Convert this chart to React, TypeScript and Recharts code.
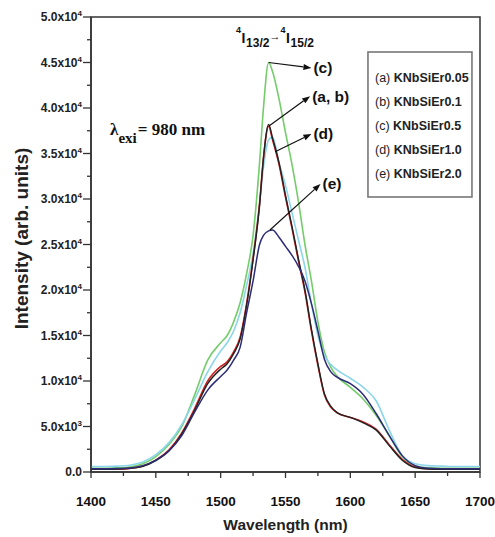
import React from 'react';
import { LineChart, Line, XAxis, YAxis, ReferenceArea, ReferenceLine, ReferenceDot } from 'recharts';

const wavelengths = [1400, 1410, 1420, 1430, 1440, 1450, 1460, 1470, 1480, 1490, 1500, 1505, 1510, 1515, 1520, 1525, 1530, 1533, 1537, 1540, 1545, 1550, 1555, 1560, 1565, 1570, 1575, 1580, 1585, 1590, 1600, 1610, 1620, 1630, 1640, 1650, 1660, 1670, 1680, 1690, 1700];

const seriesA = [300, 300, 320, 400, 650, 1300, 2400, 4300, 7000, 10000, 11600, 12100, 13200, 14800, 18500, 23500, 29500, 34500, 38000, 36500, 33800, 30200, 26800, 23200, 19800, 15500, 11700, 8500, 7100, 6500, 6000, 5500, 4700, 3000, 1400, 550, 350, 300, 300, 300, 300];
const seriesB = [300, 300, 320, 400, 620, 1250, 2300, 4200, 6800, 9700, 11300, 11900, 13000, 14600, 18300, 23300, 29300, 34500, 38200, 36700, 34000, 30400, 27000, 23400, 20000, 15700, 11900, 8600, 7200, 6500, 6000, 5400, 4600, 2900, 1300, 500, 330, 300, 300, 300, 300];
const seriesC = [400, 400, 450, 550, 900, 1700, 3000, 5000, 8500, 12300, 14200, 15000, 16500, 18600, 21800, 26000, 34000, 40000, 45000, 44000, 41000, 37300, 33800, 29700, 25000, 21000, 16500, 13200, 11500, 10500, 9300, 8000, 6200, 4000, 1700, 650, 450, 400, 400, 400, 400];
const seriesD = [600, 600, 650, 750, 1100, 1900, 3200, 5200, 8000, 11000, 13300, 14200, 15500, 17500, 20500, 24000, 29500, 33500, 36500, 36800, 34000, 31500, 28500, 25500, 22500, 18500, 15000, 12800, 11800, 11200, 10300, 9300, 7800, 4600, 1800, 900, 700, 650, 600, 600, 600];
const seriesE = [350, 350, 380, 450, 700, 1300, 2300, 4000, 6600, 9000, 10500, 11200, 12300, 13700, 17500, 21000, 25000, 26000, 26500, 26600, 25800, 24800, 23800, 22600, 21000, 18500, 15500, 12400, 11000, 10400, 9700, 8500, 6400, 4000, 1800, 700, 400, 350, 350, 350, 350];

const xTicks = [1400, 1425, 1450, 1475, 1500, 1525, 1550, 1575, 1600, 1625, 1650, 1675, 1700];
const yTicks = [0, 2500, 5000, 7500, 10000, 12500, 15000, 17500, 20000, 22500, 25000, 27500, 30000, 32500, 35000, 37500, 40000, 42500, 45000, 47500, 50000];
const yMantissas = ['0.0', '5.0', '1.0', '1.5', '2.0', '2.5', '3.0', '3.5', '4.0', '4.5', '5.0'];
const yExponents = ['', '3', '4', '4', '4', '4', '4', '4', '4', '4', '4'];

const legendLetters = ['a', 'b', 'c', 'd', 'e'];
const legendNames = ['KNbSiEr0.05', 'KNbSiEr0.1', 'KNbSiEr0.5', 'KNbSiEr1.0', 'KNbSiEr2.0'];

const arrowLabels = ['(c)', '(a, b)', '(d)', '(e)'];
const arrowStarts = [[1537, 45000], [1537, 38000], [1542, 35200], [1538, 26600]];
const arrowEnds = [[1570, 44400], [1569, 41300], [1570, 37150], [1577, 31650]];

const data = wavelengths.map((w, i) => ({
  w,
  a: seriesA[i],
  b: seriesB[i],
  c: seriesC[i],
  d: seriesD[i],
  e: seriesE[i],
}));

const SANS = 'Liberation Sans, Arial, sans-serif';
const SERIF = 'Liberation Serif, Times New Roman, serif';
const AXIS = '#333';

const YTick = (props: any) => {
  const { x, y, payload } = props;
  const v = payload.value;
  const major = v % 5000 === 0;
  const idx = Math.round(v / 5000);
  return (
    <g>
      <line x1={x - (major ? 8 : 4)} x2={x} y1={y} y2={y} stroke={AXIS} strokeWidth={1.3} />
      {major && (
        <text x={x - 9} y={y} dy="0.35em" textAnchor="end" fontFamily={SANS} fontWeight="bold" fontSize={12} fill="#222">
          {yExponents[idx] ? yMantissas[idx] + 'x10' : yMantissas[idx]}
          {yExponents[idx] && (
            <tspan fontSize={8} dy={-5}>{yExponents[idx]}</tspan>
          )}
        </text>
      )}
    </g>
  );
};

const XTick = (props: any) => {
  const { x, y, payload } = props;
  const v = payload.value;
  const major = v % 50 === 0;
  return (
    <g>
      <line x1={x} x2={x} y1={y} y2={y + (major ? 6 : 4)} stroke={AXIS} strokeWidth={1.3} />
      {major && (
        <text x={x} y={y + 34} textAnchor="middle" fontFamily={SANS} fontWeight={700} fontSize={13.5} fill="#111">
          {v}
        </text>
      )}
    </g>
  );
};

const makeArrow = (label: string, dx: number) => (p: any) => {
  const { x1, y1, x2, y2 } = p;
  const ang = Math.atan2(y2 - y1, x2 - x1);
  const L = 8;
  const W = 3;
  const bx = x2 - L * Math.cos(ang);
  const by = y2 - L * Math.sin(ang);
  const pts = `${x2},${y2} ${bx - W * Math.sin(ang)},${by + W * Math.cos(ang)} ${bx + W * Math.sin(ang)},${by - W * Math.cos(ang)}`;
  return (
    <g>
      <line x1={x1} y1={y1} x2={bx} y2={by} stroke="#111" strokeWidth={1.2} />
      <polygon points={pts} fill="#111" />
      <text x={x2 + dx} y={y2} dy="0.35em" fontFamily={SANS} fontWeight="bold" fontSize={15.5} fill="#111">
        {label}
      </text>
    </g>
  );
};

const LegendBox = (props: any) => {
  const { x, y, width, height } = props;
  return (
    <g>
      <rect x={x} y={y} width={width} height={height} fill="#fff" stroke="#777" strokeWidth={1.6} />
      {legendLetters.map((l, i) => (
        <text key={l} x={x + 7} y={y + 30.5 + i * 24} fontFamily={SANS} fontSize={12.5} fill="#222">
          <tspan>({l}) </tspan>
          <tspan fontWeight="bold">{legendNames[i]}</tspan>
        </text>
      ))}
    </g>
  );
};

const LambdaText = (p: any) => (
  <text x={p.cx} y={p.cy} fontFamily={SERIF} fontWeight="bold" fontSize={17} fill="#111">
    λ
    <tspan fontSize={15} dy={8}>exi</tspan>
    <tspan dy={-8} dx={1}>= 980 nm</tspan>
  </text>
);

const TransitionText = (p: any) => {
  const { cx, cy } = p;
  const t = { fontFamily: SANS, fontWeight: 'bold' as const, fill: '#111' };
  return (
    <g>
      <text x={cx - 2} y={cy - 10} fontSize={9} {...t}>4</text>
      <text x={cx + 3.5} y={cy} fontSize={14} {...t}>I</text>
      <text x={cx + 8} y={cy + 4} fontSize={12} {...t}>13/2</text>
      <text x={cx + 31.5} y={cy - 3} fontSize={11} fontWeight="normal" fontFamily={SANS} fill="#111">→</text>
      <text x={cx + 42.5} y={cy - 10} fontSize={9} {...t}>4</text>
      <text x={cx + 48} y={cy} fontSize={14} {...t}>I</text>
      <text x={cx + 52.5} y={cy + 4} fontSize={12} {...t}>15/2</text>
    </g>
  );
};

const YLabel = (p: any) => {
  const vb = p.viewBox || { x: 0, y: 17, width: 91, height: 455 };
  const cx = vb.x + 21;
  const cy = vb.y + vb.height / 2 - 6;
  return (
    <text x={cx} y={cy} transform={`rotate(-90 ${cx} ${cy})`} textAnchor="middle" dominantBaseline="central" fontFamily={SANS} fontWeight="bold" fontSize={19} fill="#222">
      Intensity (arb. units)
    </text>
  );
};

const XLabel = (p: any) => {
  const vb = p.viewBox || { x: 91, y: 472, width: 389, height: 65 };
  return (
    <text x={vb.x + vb.width / 2} y={vb.y + 58} textAnchor="middle" fontFamily={SANS} fontWeight="bold" fontSize={15.5} fill="#222">
      Wavelength (nm)
    </text>
  );
};

export default function App() {
  return (
    <div style={{ position: 'absolute', left: 0, top: 0, width: 495, height: 537, background: '#fff' }}>
      <LineChart width={495} height={537} data={data} margin={{ top: 17, right: 15, bottom: 0, left: 0 }}>
        <XAxis
          dataKey="w"
          type="number"
          domain={[1400, 1700]}
          ticks={xTicks}
          interval={0}
          tickSize={0}
          tickMargin={0}
          tickLine={false}
          tick={<XTick />}
          height={65}
          axisLine={{ stroke: AXIS, strokeWidth: 1.5 }}
          label={{ content: (p: any) => <XLabel {...p} /> }}
        />
        <YAxis
          type="number"
          domain={[0, 50000]}
          ticks={yTicks}
          interval={0}
          tickSize={0}
          tickMargin={0}
          tickLine={false}
          tick={<YTick />}
          width={91}
          axisLine={{ stroke: AXIS, strokeWidth: 1.5 }}
          label={{ content: (p: any) => <YLabel {...p} /> }}
        />
        <ReferenceArea x1={1400} x2={1700} y1={0} y2={50000} fill="none" stroke={AXIS} strokeWidth={1.5} strokeOpacity={1} fillOpacity={0} />
        <Line type="monotone" dataKey="c" stroke="#74cc6a" strokeWidth={1.6} dot={false} isAnimationActive={false} />
        <Line type="monotone" dataKey="d" stroke="#8bd6ea" strokeWidth={1.6} dot={false} isAnimationActive={false} />
        <Line type="monotone" dataKey="a" stroke="#cc2424" strokeWidth={1.6} dot={false} isAnimationActive={false} />
        <Line type="monotone" dataKey="b" stroke="#222222" strokeWidth={1.4} dot={false} isAnimationActive={false} />
        <Line type="monotone" dataKey="e" stroke="#2c2c78" strokeWidth={1.5} dot={false} isAnimationActive={false} />
        {arrowLabels.map((lab, i) => (
          <ReferenceLine
            key={lab}
            segment={[
              { x: arrowStarts[i][0], y: arrowStarts[i][1] },
              { x: arrowEnds[i][0], y: arrowEnds[i][1] },
            ]}
            shape={makeArrow(lab, 2)}
          />
        ))}
        <ReferenceArea x1={1613.6} x2={1693.8} y1={30220} y2={46154} shape={<LegendBox />} />
        <ReferenceDot x={1414.7} y={37033} r={0} shape={<LambdaText />} />
        <ReferenceDot x={1513.4} y={47143} r={0} shape={<TransitionText />} />
      </LineChart>
    </div>
  );
}
